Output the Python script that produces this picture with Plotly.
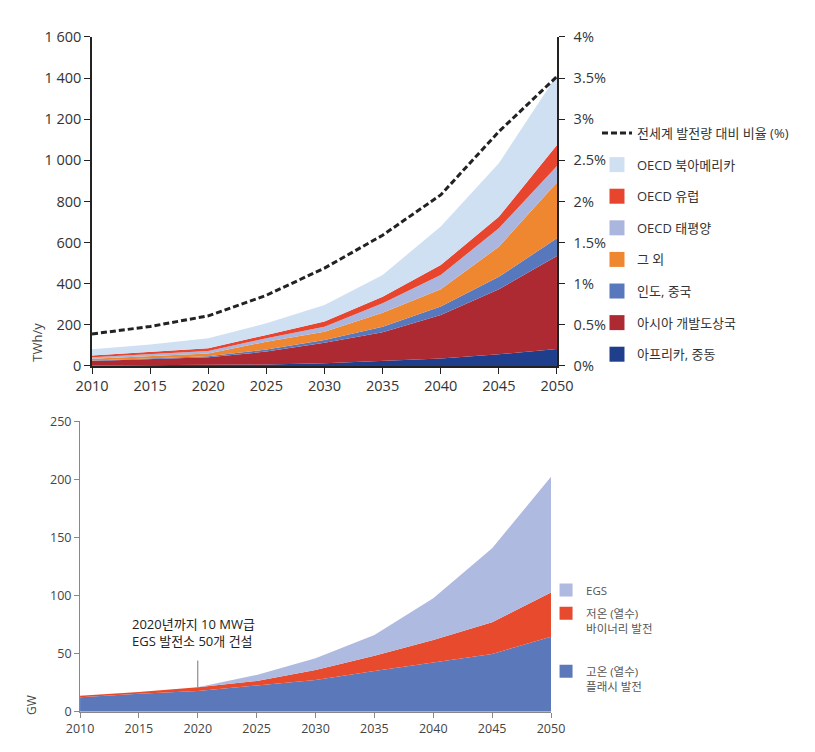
import plotly.graph_objects as go

# ---------------- data: top chart (TWh/y) ----------------
years = [2010, 2015, 2020, 2025, 2030, 2035, 2040, 2045, 2050]
africa_me      = [2, 3, 4, 7, 13, 24, 37, 57, 83]
asia_dev       = [22, 30, 38, 63, 100, 140, 211, 316, 452]
india_china    = [3, 4, 5, 10, 13, 27, 41, 61, 86]
others         = [8, 10, 14, 38, 41, 68, 84, 146, 272]
oecd_pacific   = [8, 10, 12, 17, 24, 46, 70, 90, 80]
oecd_europe    = [8, 10, 13, 16, 25, 32, 48, 56, 102]
oecd_namerica  = [30, 38, 49, 57, 81, 106, 187, 260, 340]
share_pct      = [0.39, 0.48, 0.61, 0.86, 1.19, 1.59, 2.08, 2.85, 3.52]

top_series = [
    ("아프리카, 중동", africa_me, "#1f3f8c"),
    ("아시아 개발도상국", asia_dev, "#ae2a33"),
    ("인도, 중국", india_china, "#5878bd"),
    ("그 외", others, "#ef8630"),
    ("OECD 태평양", oecd_pacific, "#aab6de"),
    ("OECD 유럽", oecd_europe, "#e8452f"),
    ("OECD 북아메리카", oecd_namerica, "#d0e0f3"),
]
share_name = "전세계 발전량 대비 비율 (%)"

top_yticks = [0, 200, 400, 600, 800, 1000, 1200, 1400, 1600]
top_yticktext = ["0", "200", "400", "600", "800", "1 000", "1 200", "1 400", "1 600"]
pct_ticks = [0, 0.5, 1, 1.5, 2, 2.5, 3, 3.5, 4]
pct_ticktext = ["0%", "0.5%", "1%", "1.5%", "2%", "2.5%", "3%", "3.5%", "4%"]

# ---------------- data: bottom chart (GW) ----------------
flash_ht  = [12.4, 15.5, 17.8, 22.7, 27.3, 35.0, 42.5, 49.7, 64.6]
binary_lt = [1.4, 1.5, 3.2, 3.7, 8.6, 13.2, 19.2, 27.3, 37.9]
egs       = [0, 0, 0, 5.2, 10.1, 17.8, 35.9, 63.6, 99.8]
bottom_series = [
    ("고온 (열수)<br>플래시 발전", flash_ht, "#5a78ba", "legend4"),
    ("저온 (열수)<br>바이너리 발전", binary_lt, "#e84a2e", "legend3"),
    ("EGS", egs, "#aebadf", "legend2"),
]
bottom_yticks = [0, 50, 100, 150, 200, 250]
annot_text = "2020년까지 10 MW급<br>EGS 발전소 50개 건설"

FONT = "Open Sans, Noto Sans CJK KR, sans-serif"
fig = go.Figure()

# top stacked areas
for name, vals, col in top_series:
    fig.add_trace(go.Scatter(x=years, y=vals, stackgroup="top", mode="lines",
                             line=dict(width=0, color=col), fillcolor=col,
                             showlegend=False, xaxis="x", yaxis="y", hoverinfo="skip"))
fig.add_trace(go.Scatter(x=years, y=share_pct, mode="lines", name=share_name,
                         line=dict(color="#222222", width=3, dash="6px,3px"),
                         xaxis="x", yaxis="y2", legend="legend", legendgroup="g0",
                         legendrank=1))
# top legend squares
for i, (name, vals, col) in enumerate(reversed(top_series)):
    fig.add_trace(go.Scatter(x=[None], y=[None], mode="markers", name=name,
                             marker=dict(symbol="square", size=15, color=col),
                             xaxis="x", yaxis="y", legend="legend",
                             legendgroup="g%d" % (i + 1), legendrank=i + 2))

# bottom stacked areas
for name, vals, col, lg in bottom_series:
    fig.add_trace(go.Scatter(x=years, y=vals, stackgroup="bot", mode="lines",
                             line=dict(width=0, color=col), fillcolor=col,
                             showlegend=False, xaxis="x3", yaxis="y3", hoverinfo="skip"))
    fig.add_trace(go.Scatter(x=[None], y=[None], mode="markers", name=name,
                             marker=dict(symbol="square", size=13, color=col),
                             xaxis="x3", yaxis="y3", legend=lg))

axis_font = dict(family=FONT, size=14.5, color="#333333")
axis_font_b = dict(family=FONT, size=12.5, color="#444444")

fig.update_layout(
    width=815, height=752,
    margin=dict(l=0, r=0, t=0, b=0, autoexpand=False),
    paper_bgcolor="white", plot_bgcolor="white",
    font=dict(family=FONT, color="#333333"),
    xaxis=dict(domain=[0.1129, 0.6834], range=[2010, 2050], tickvals=years,
               showline=True, linecolor="#222", linewidth=1.5, ticks="outside",
               ticklen=6, tickcolor="#222", tickfont=axis_font, showgrid=False,
               zeroline=False, anchor="y", automargin=False),
    yaxis=dict(domain=[0.5133, 0.9508], range=[0, 1600], tickvals=top_yticks,
               ticktext=top_yticktext, showline=True, linecolor="#222", linewidth=1.5,
               ticks="outside", ticklen=6, tickcolor="#222", tickfont=axis_font,
               showgrid=False, zeroline=False, anchor="x", automargin=False),
    yaxis2=dict(domain=[0.5133, 0.9508], range=[0, 4], tickvals=pct_ticks,
                ticktext=pct_ticktext, overlaying="y", side="right", anchor="x",
                showline=True, linecolor="#222", linewidth=1.5, ticks="outside",
                ticklen=6, tickcolor="#222", tickfont=axis_font, showgrid=False,
                zeroline=False, automargin=False, ticklabelstandoff=6),
    xaxis3=dict(domain=[0.0982, 0.6761], range=[2010, 2050], tickvals=years,
                showline=True, linecolor="#888", linewidth=1, ticks="outside",
                ticklen=5, tickcolor="#888", tickfont=axis_font_b, showgrid=False,
                zeroline=False, anchor="y3", automargin=False),
    yaxis3=dict(domain=[0.0536, 0.4398], range=[0, 250], tickvals=bottom_yticks,
                showline=True, linecolor="#888", linewidth=1, ticks="outside",
                ticklen=5, tickcolor="#888", tickfont=axis_font_b, showgrid=False,
                zeroline=False, anchor="x3", automargin=False),
    legend=dict(x=0.7325, y=0.843, xanchor="left", yanchor="top",
                traceorder="grouped", tracegroupgap=11.7,
                font=dict(family=FONT, size=13, color="#333"),
                bgcolor="rgba(0,0,0,0)"),
    legend2=dict(x=0.67, y=0.234, xanchor="left", yanchor="top", valign="top",
                 font=dict(family=FONT, size=11.5, color="#555"), bgcolor="rgba(0,0,0,0)"),
    legend3=dict(x=0.67, y=0.203, xanchor="left", yanchor="top", valign="top",
                 font=dict(family=FONT, size=11.5, color="#555"), bgcolor="rgba(0,0,0,0)"),
    legend4=dict(x=0.67, y=0.126, xanchor="left", yanchor="top", valign="top",
                 font=dict(family=FONT, size=11.5, color="#555"), bgcolor="rgba(0,0,0,0)"),
    showlegend=True,
)

fig.add_annotation(text="TWh/y", x=0.046, y=0.545, xref="paper", yref="paper",
                   xanchor="center", yanchor="middle",
                   textangle=-90, showarrow=False, font=dict(family=FONT, size=13, color="#444"))
fig.add_annotation(text="GW", x=0.038, y=0.0625, xref="paper", yref="paper",
                   xanchor="center", yanchor="middle",
                   textangle=-90, showarrow=False, font=dict(family=FONT, size=12, color="#444"))
fig.add_annotation(text=annot_text, x=2020, y=44, xref="x3", yref="y3",
                   xanchor="center", yanchor="bottom", yshift=9, xshift=-4,
                   showarrow=False, align="left",
                   font=dict(family=FONT, size=13, color="#222"))
fig.add_shape(type="line", x0=2020, x1=2020, y0=21, y1=44, xref="x3", yref="y3",
              line=dict(color="#777", width=1))

fig.write_html("out.html")
